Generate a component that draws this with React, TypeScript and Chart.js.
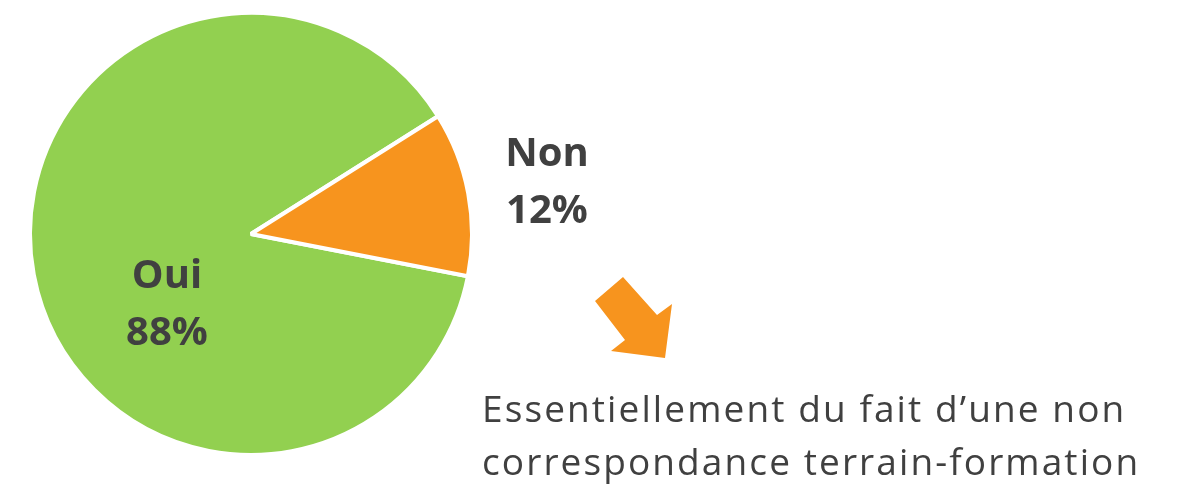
import React, { useEffect, useRef } from "react";
import { Chart, registerables } from "chart.js";

Chart.register(...registerables);

const categories = ["Oui", "Non"];
const values = [88, 12];
const percentLabels = ["88%", "12%"];
const sliceColors = ["#92D050", "#F7941E"];
const noteLines = ["Essentiellement du fait d\u2019une non", "correspondance terrain-formation"];

const TEXT = "#404040";

const labelPlugin = {
  id: "sliceLabels",
  afterDatasetsDraw(chart: any, _args: any, opts: any) {
    const ctx = chart.ctx;
    const meta = chart.getDatasetMeta(0);
    ctx.save();
    ctx.fillStyle = TEXT;
    ctx.font = "bold 40px 'Open Sans'";
    ctx.textAlign = "center";
    ctx.textBaseline = "alphabetic";
    meta.data.forEach((arc: any, i: number) => {
      const off = opts.offsets[i];
      const x = arc.x + off.dx;
      const y = arc.y + off.dy;
      ctx.fillText(String(chart.data.labels[i]), x, y);
      ctx.fillText(percentLabels[i], x, y + 57);
    });
    ctx.restore();
  },
};

export default function App() {
  const ref = useRef<HTMLCanvasElement | null>(null);
  useEffect(() => {
    if (!ref.current) return;
    const chart = new Chart(ref.current, {
      type: "pie",
      data: {
        labels: categories,
        datasets: [
          {
            data: values,
            backgroundColor: sliceColors,
            borderColor: "#FFFFFF",
            borderWidth: 4,
          },
        ],
      },
      options: {
        animation: false,
        responsive: false,
        rotation: 101,
        layout: { padding: { left: 28, top: 11, right: 712, bottom: 32 } },
        plugins: {
          legend: { display: false },
          tooltip: { enabled: false },
          sliceLabels: { offsets: [{ dx: -84, dy: 54 }, { dx: 296, dy: -68 }] },
        } as any,
      },
      plugins: [labelPlugin],
    });
    return () => chart.destroy();
  }, []);

  return (
    <div style={{ position: "fixed", left: 0, top: 0, width: 1186, height: 489, background: "#fff" }}>
      <canvas ref={ref} width={1186} height={489} style={{ display: "block", position: "absolute", left: 0, top: 0 }} />
      <svg width={1186} height={489} style={{ position: "absolute", left: 0, top: 0, pointerEvents: "none" }}>
        <polygon
          points="595,301 623,277 657,315 672,304 665,358 611,351 625,340"
          fill="#F7941E"
        />
      </svg>
      <div
        style={{
          position: "absolute",
          left: 482,
          top: 381,
          fontFamily: "'Open Sans'",
          fontSize: 37,
          lineHeight: "53px",
          letterSpacing: "2.1px",
          color: TEXT,
          whiteSpace: "nowrap",
        }}
      >
        {noteLines.map((l, i) => (
          <div key={i}>{l}</div>
        ))}
      </div>
    </div>
  );
}
